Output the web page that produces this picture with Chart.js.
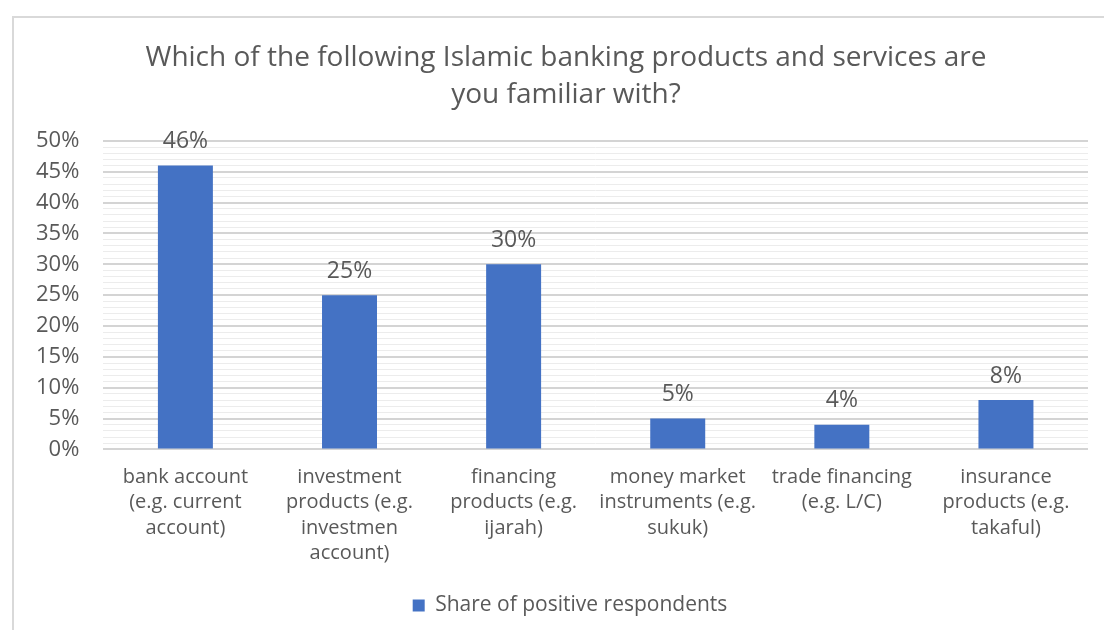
<!DOCTYPE html>
<html>
<head>
<meta charset="utf-8">
<script src="https://cdn.jsdelivr.net/npm/chart.js@4.4.0/dist/chart.umd.min.js"></script>
<style>
  html, body { margin: 0; padding: 0; background: #fff; overflow: hidden; }
  #frame {
    position: absolute; left: 12px; top: 16px; width: 1108px; height: 640px;
    border-left: 2px solid #d9d9d9; border-top: 2px solid #d9d9d9; box-sizing: border-box;
  }
  #wrap { position: absolute; left: 12px; top: 16px; width: 1108px; height: 614px; }
</style>
</head>
<body>
<div id="frame"></div>
<div id="wrap"><canvas id="chart"></canvas></div>
<script>
// categories, already split into the lines shown under each bar
const categories = [
    ["bank account", "(e.g. current", "account)"],
    ["investment", "products (e.g.", "investmen", "account)"],
    ["financing", "products (e.g.", "ijarah)"],
    ["money market", "instruments (e.g.", "sukuk)"],
    ["trade financing", "(e.g. L/C)"],
    ["insurance", "products (e.g.", "takaful)"]
];
const shareValues = [46, 25, 30, 5, 4, 8];
const seriesName = "Share of positive respondents";
const titleLines = ["Which of the following Islamic banking products and services are", "you familiar with?"];

const textGray = "#595959";
const fontFamily = "'Open Sans', 'Noto Sans', sans-serif";

// draws the value above each bar
const barValueLabels = {
    id: "barValueLabels",
    afterDatasetsDraw(chart) {
        const ctx = chart.ctx;
        const meta = chart.getDatasetMeta(0);
        ctx.save();
        ctx.font = "23px " + fontFamily;
        ctx.fillStyle = textGray;
        ctx.textAlign = "center";
        ctx.textBaseline = "middle";
        meta.data.forEach(function (bar, i) {
            ctx.fillText(shareValues[i] + "%", bar.x, bar.y - 24);
        });
        ctx.restore();
    }
};

// title and legend are centred on the whole frame, not on the padded area
const centreOnFrame = {
    id: "centreOnFrame",
    afterLayout(chart) {
        if (chart.titleBlock) { chart.titleBlock.left += 16; chart.titleBlock.right += 16; }
        if (chart.legend) { chart.legend.left += 20; chart.legend.right += 20; }
    }
};

var ctx = document.getElementById("chart").getContext("2d");
var chart = new Chart(ctx, {
    type: "bar",
    data: {
        labels: categories,
        datasets: [{
            label: seriesName,
            data: shareValues,
            backgroundColor: "#4472C4",
            borderWidth: 0,
            barPercentage: 0.335,
            categoryPercentage: 1
        }]
    },
    options: {
        responsive: true,
        maintainAspectRatio: false,
        animation: false,
        layout: { padding: { left: 0, right: 32, top: 0, bottom: 4 } },
        plugins: {
            title: {
                display: true,
                text: titleLines,
                color: textGray,
                font: { family: fontFamily, size: 28, weight: "normal", lineHeight: 1.32 },
                padding: { top: 24, bottom: 27 }
            },
            legend: {
                position: "bottom",
                labels: {
                    color: textGray,
                    boxWidth: 12,
                    boxHeight: 12,
                    font: { family: fontFamily, size: 21 }
                }
            },
            tooltip: { enabled: false }
        },
        scales: {
            x: {
                grid: { display: false },
                border: { display: false },
                afterFit: function (scale) { scale.height += 12; },
                ticks: {
                    color: textGray,
                    maxRotation: 0,
                    autoSkip: false,
                    padding: 7,
                    font: { family: fontFamily, size: 20, lineHeight: 1.27 }
                }
            },
            y: {
                min: 0,
                max: 50,
                border: { display: false },
                grid: {
                    drawTicks: false,
                    color: c => c.tick.value % 5 === 0 ? "#d4d4d4" : "#ececec",
                    lineWidth: c => c.tick.value % 5 === 0 ? 2 : 1
                },
                ticks: {
                    stepSize: 1,
                    autoSkip: false,
                    padding: 24,
                    color: textGray,
                    font: { family: fontFamily, size: 22 },
                    callback: v => v % 5 === 0 ? v + "%" : ""
                }
            }
        }
    },
    plugins: [barValueLabels, centreOnFrame]
});
</script>
</body>
</html>
